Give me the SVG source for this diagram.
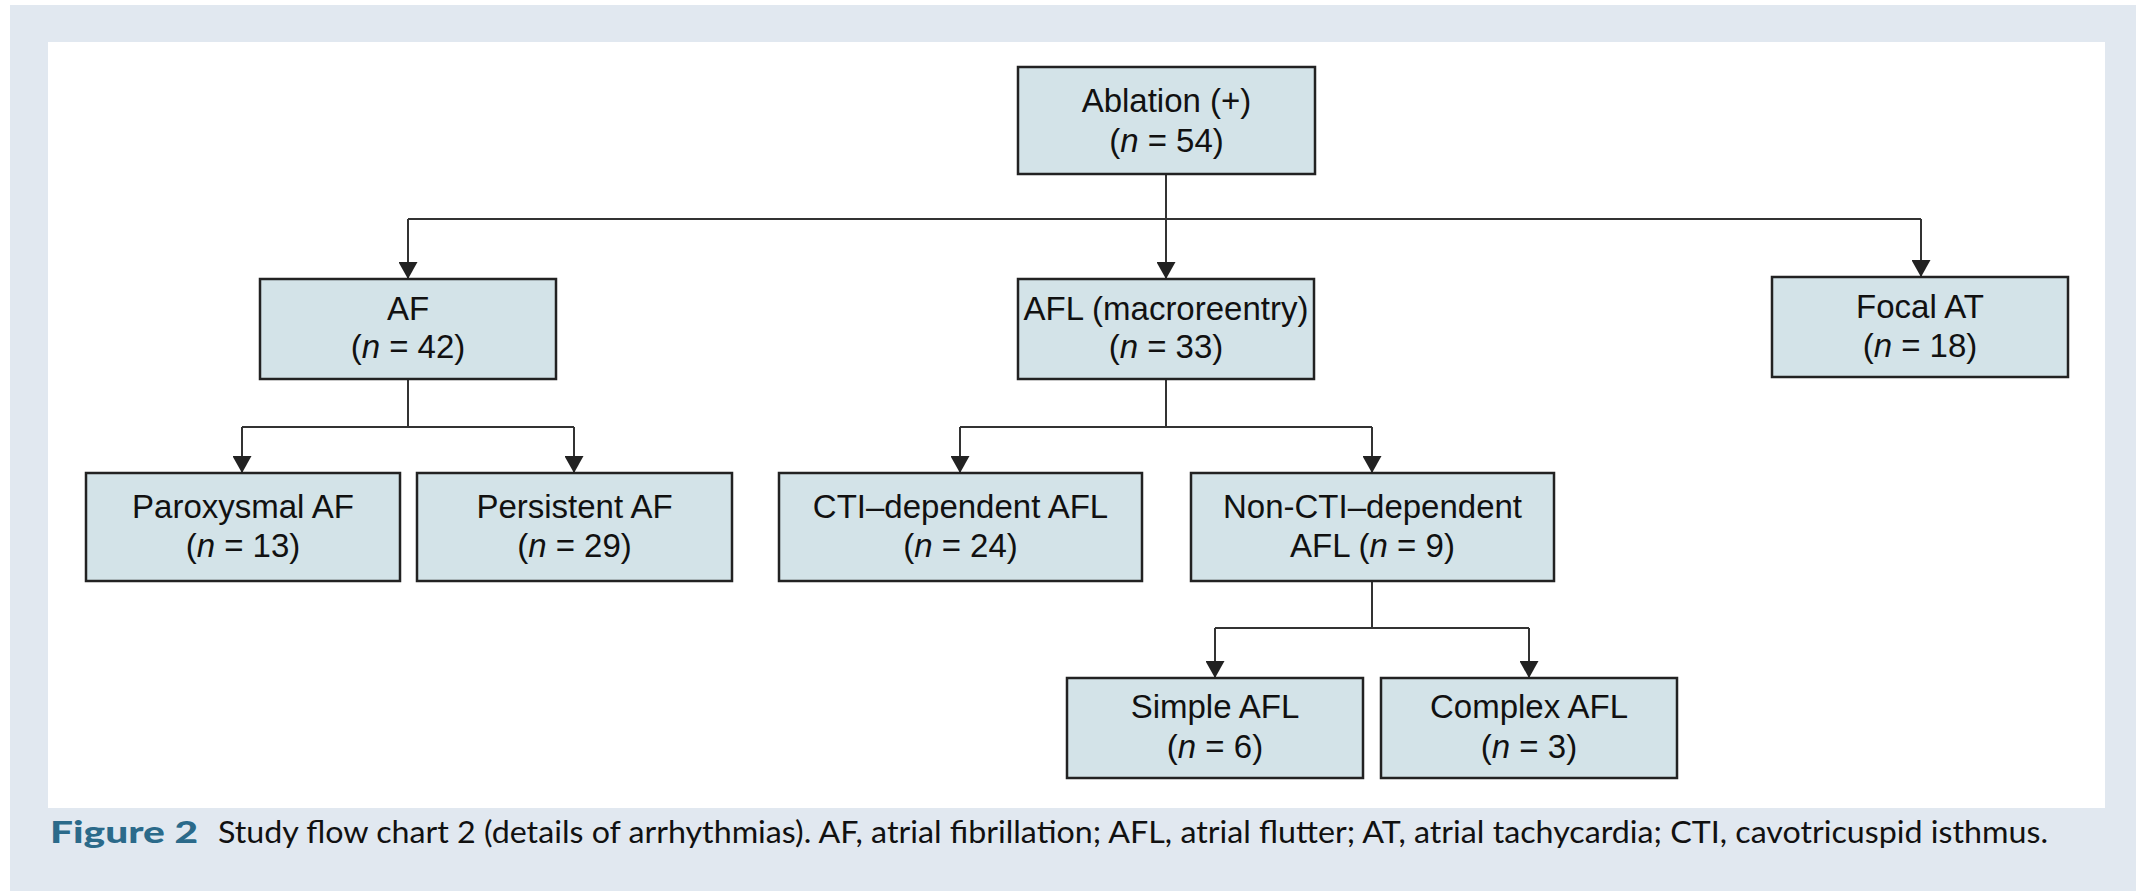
<svg xmlns="http://www.w3.org/2000/svg" width="2136" height="891" viewBox="0 0 2136 891">
<style>
.box{fill:#d3e3e8;stroke:#222;stroke-width:2.5}
.t{font-family:"Liberation Sans",Arial,sans-serif;font-size:33px;fill:#111;text-anchor:middle}
.i{font-style:italic}
.c{fill:none;stroke:#333;stroke-width:2}
.cap{font-family:Lato,"Open Sans",sans-serif;font-size:31px;fill:#111}
.fig{font-family:Lato,"Open Sans",sans-serif;font-size:31px;font-weight:900;fill:#2b6a8a}
</style>
<defs>
<marker id="ah" viewBox="0 0 17 19" refX="17" refY="9.5" markerWidth="17" markerHeight="19" markerUnits="userSpaceOnUse" orient="auto">
<path d="M0,0 L17,9.5 L0,19 z" fill="#222"/>
</marker>
</defs>
<rect x="0" y="0" width="2136" height="891" fill="#ffffff"/>
<rect x="10" y="5" width="2126" height="886" fill="#e1e8f0"/>
<rect x="48" y="42" width="2057" height="766" fill="#ffffff"/>
<g id="connectors">
<path class="c" d="M1166,174 V219 M408,219 H1921 M242,427 H574 M1166,379 V427 M960,427 H1372 M408,379 V427 M1372,581 V628 M1215,628 H1529"/>
<path class="c" marker-end="url(#ah)" d="M408,219 V279"/>
<path class="c" marker-end="url(#ah)" d="M1166,219 V279"/>
<path class="c" marker-end="url(#ah)" d="M1921,219 V277"/>
<path class="c" marker-end="url(#ah)" d="M242,427 V473"/>
<path class="c" marker-end="url(#ah)" d="M574,427 V473"/>
<path class="c" marker-end="url(#ah)" d="M960,427 V473"/>
<path class="c" marker-end="url(#ah)" d="M1372,427 V473"/>
<path class="c" marker-end="url(#ah)" d="M1215,628 V678"/>
<path class="c" marker-end="url(#ah)" d="M1529,628 V678"/>
</g>
<g id="ablation">
<rect class="box" x="1018" y="67" width="297" height="107"/>
<text class="t" x="1166.5" y="112">Ablation (+)</text>
<text class="t" x="1166.5" y="152">(<tspan class="i">n</tspan> = 54)</text>
</g>
<g id="af">
<rect class="box" x="260" y="279" width="296" height="100"/>
<text class="t" x="408" y="320">AF</text>
<text class="t" x="408" y="358">(<tspan class="i">n</tspan> = 42)</text>
</g>
<g id="afl">
<rect class="box" x="1018" y="279" width="296" height="100"/>
<text class="t" x="1166" y="320">AFL (macroreentry)</text>
<text class="t" x="1166" y="358">(<tspan class="i">n</tspan> = 33)</text>
</g>
<g id="focal">
<rect class="box" x="1772" y="277" width="296" height="100"/>
<text class="t" x="1920" y="318">Focal AT</text>
<text class="t" x="1920" y="357">(<tspan class="i">n</tspan> = 18)</text>
</g>
<g id="paroxysmal">
<rect class="box" x="86" y="473" width="314" height="108"/>
<text class="t" x="243" y="518">Paroxysmal AF</text>
<text class="t" x="243" y="557">(<tspan class="i">n</tspan> = 13)</text>
</g>
<g id="persistent">
<rect class="box" x="417" y="473" width="315" height="108"/>
<text class="t" x="574.5" y="518">Persistent AF</text>
<text class="t" x="574.5" y="557">(<tspan class="i">n</tspan> = 29)</text>
</g>
<g id="cti">
<rect class="box" x="779" y="473" width="363" height="108"/>
<text class="t" x="960.5" y="518">CTI–dependent AFL</text>
<text class="t" x="960.5" y="557">(<tspan class="i">n</tspan> = 24)</text>
</g>
<g id="nonCti">
<rect class="box" x="1191" y="473" width="363" height="108"/>
<text class="t" x="1372.5" y="518">Non-CTI–dependent</text>
<text class="t" x="1372.5" y="557">AFL (<tspan class="i">n</tspan> = 9)</text>
</g>
<g id="simple">
<rect class="box" x="1067" y="678" width="296" height="100"/>
<text class="t" x="1215" y="718">Simple AFL</text>
<text class="t" x="1215" y="758">(<tspan class="i">n</tspan> = 6)</text>
</g>
<g id="complex">
<rect class="box" x="1381" y="678" width="296" height="100"/>
<text class="t" x="1529" y="718">Complex AFL</text>
<text class="t" x="1529" y="758">(<tspan class="i">n</tspan> = 3)</text>
</g>
<g id="caption">
<text class="fig" x="50" y="843" textLength="148" lengthAdjust="spacingAndGlyphs">Figure 2</text>
<text class="cap" x="218" y="843" textLength="1830" lengthAdjust="spacingAndGlyphs">Study flow chart 2 (details of arrhythmias). AF, atrial fibrillation; AFL, atrial flutter; AT, atrial tachycardia; CTI, cavotricuspid isthmus.</text>
</g>
</svg>
